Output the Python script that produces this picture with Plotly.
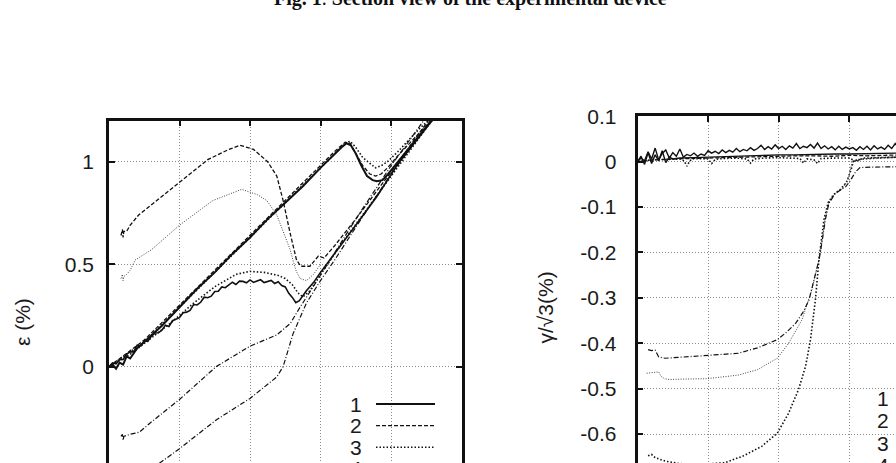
import plotly.graph_objects as go

W, H = 896, 463

# ---------------- data: left panel (epsilon %) ----------------
eps_s1_x = [0.00, 0.05, 0.10, 0.15, 0.20, 0.25, 0.30, 0.40, 0.50, 0.75, 1.00, 1.25, 1.50, 1.75, 2.00, 2.25, 2.50, 2.75, 3.00,
            3.20, 3.30, 3.37, 3.43, 3.50, 3.58, 3.66, 3.74, 3.80, 3.88, 3.96, 4.10, 4.30, 4.50, 4.65]
eps_s1_y = [0.00, 0.01, -0.01, 0.02, 0.01, 0.05, 0.04, 0.09, 0.12, 0.20, 0.29, 0.38, 0.46, 0.55, 0.63, 0.72, 0.80, 0.88, 0.97,
            1.04, 1.07, 1.09, 1.08, 1.04, 0.98, 0.93, 0.91, 0.905, 0.91, 0.94, 1.00, 1.09, 1.17, 1.23]

eps_s1b_x = [0.00, 0.05, 0.10, 0.15, 0.20, 0.25, 0.30, 0.35, 0.40, 0.45, 0.50, 0.55, 0.60, 0.65, 0.70, 0.75, 0.80, 0.85,
             0.90, 0.95, 1.00, 1.05, 1.10, 1.15, 1.20, 1.25, 1.30, 1.35, 1.40, 1.45, 1.50, 1.55, 1.60, 1.65, 1.70, 1.75,
             1.80, 1.85, 1.90, 1.95, 2.00, 2.05, 2.10, 2.15, 2.20, 2.25, 2.30, 2.35, 2.40, 2.45, 2.50, 2.55, 2.60, 2.65,
             2.70, 2.80, 2.90, 3.00, 3.20, 3.50, 3.80, 4.10, 4.40, 4.65]
eps_s1b_y = [0.000, 0.018, 0.014, 0.034, 0.035, 0.061, 0.072, 0.072, 0.105, 0.101, 0.126, 0.123, 0.148, 0.164, 0.165,
             0.178, 0.202, 0.196, 0.224, 0.231, 0.239, 0.263, 0.266, 0.274, 0.303, 0.301, 0.314, 0.339, 0.336, 0.344,
             0.367, 0.368, 0.389, 0.385, 0.398, 0.412, 0.401, 0.417, 0.416, 0.409, 0.423, 0.411, 0.418, 0.424, 0.410,
             0.417, 0.421, 0.406, 0.414, 0.396, 0.389, 0.358, 0.338, 0.312, 0.322, 0.37, 0.41, 0.46, 0.55, 0.69, 0.83,
             0.99, 1.12, 1.23]

eps_d1_x = [0.00, 0.50, 1.00, 1.50, 2.00, 2.50, 3.00, 3.20, 3.35, 3.42, 3.50, 3.60, 3.70, 3.78, 3.86, 3.95, 4.10, 4.40, 4.62]
eps_d1_y = [0.00, 0.13, 0.30, 0.47, 0.64, 0.81, 0.98, 1.05, 1.095, 1.09, 1.04, 0.98, 0.94, 0.93, 0.94, 0.97, 1.03, 1.14, 1.22]

eps_o1_x = [0.00, 0.50, 1.00, 1.50, 2.00, 2.50, 3.00, 3.20, 3.35, 3.42, 3.50, 3.60, 3.70, 3.78, 3.86, 3.95, 4.10, 4.40, 4.62]
eps_o1_y = [0.00, 0.12, 0.29, 0.46, 0.63, 0.80, 0.97, 1.04, 1.09, 1.10, 1.07, 1.02, 0.99, 0.97, 0.98, 1.00, 1.05, 1.16, 1.23]

eps_o2_x = [0.00, 0.30, 0.60, 0.90, 1.20, 1.50, 1.80, 2.00, 2.20, 2.40, 2.50, 2.60, 2.68, 2.75, 2.85, 3.00, 3.30, 3.60, 4.00, 4.30, 4.60]
eps_o2_y = [0.00, 0.06, 0.14, 0.22, 0.31, 0.39, 0.45, 0.465, 0.46, 0.445, 0.43, 0.40, 0.36, 0.34, 0.37, 0.45, 0.60, 0.74, 0.93, 1.07, 1.21]

eps_d2_x = [0.17, 0.19, 0.20, 0.21, 0.25, 0.30, 0.42, 0.60, 1.00, 1.40, 1.70, 1.86, 2.05, 2.25, 2.38, 2.47, 2.57, 2.66,
            2.72, 2.85, 2.97, 3.05, 3.20, 3.50, 4.00, 4.30, 4.55]
eps_d2_y = [0.64, 0.67, 0.63, 0.66, 0.66, 0.69, 0.74, 0.79, 0.90, 1.01, 1.06, 1.08, 1.06, 1.00, 0.93, 0.81, 0.65, 0.52,
            0.49, 0.49, 0.54, 0.53, 0.59, 0.72, 0.95, 1.09, 1.21]

eps_o3_x = [0.17, 0.19, 0.20, 0.21, 0.25, 0.30, 0.37, 0.60, 1.00, 1.47, 1.88, 2.10, 2.24, 2.38, 2.47, 2.57, 2.65, 2.71,
            2.80, 2.90, 3.00]
eps_o3_y = [0.43, 0.45, 0.42, 0.44, 0.45, 0.47, 0.52, 0.57, 0.69, 0.81, 0.865, 0.84, 0.81, 0.74, 0.66, 0.57, 0.47, 0.43,
            0.42, 0.45, 0.50]

eps_c1_x = [0.17, 0.19, 0.20, 0.21, 0.30, 0.43, 0.60, 1.00, 1.52, 2.00, 2.38, 2.57, 2.71, 2.90, 3.10, 3.50, 4.00, 4.40, 4.50]
eps_c1_y = [-0.34, -0.33, -0.36, -0.34, -0.33, -0.32, -0.27, -0.16, 0.00, 0.10, 0.155, 0.21, 0.29, 0.39, 0.50, 0.72, 0.98, 1.17, 1.22]

eps_c2_x = [0.60, 0.76, 1.00, 1.52, 2.00, 2.38, 2.47, 2.61, 2.80, 3.00, 3.20, 3.50, 4.00, 4.50, 4.60]
eps_c2_y = [-0.50, -0.46, -0.40, -0.26, -0.155, -0.05, 0.00, 0.16, 0.31, 0.42, 0.52, 0.68, 0.94, 1.17, 1.22]

# ---------------- data: right panel (gamma/sqrt3 %) ----------------
gam_s1_x = [0.00, 0.05, 0.10, 0.15, 0.20, 0.25, 0.30, 0.35, 0.40, 0.45, 0.50, 0.55, 0.60, 0.65, 0.70, 0.75, 0.80, 0.85,
            0.90, 0.95, 1.00, 1.05, 1.10, 1.15, 1.20, 1.25, 1.30, 1.35, 1.40, 1.45, 1.50, 1.55, 1.60, 1.65, 1.70, 1.75,
            1.80, 1.85, 1.90, 1.95, 2.00, 2.05, 2.10, 2.15, 2.20, 2.25, 2.30, 2.35, 2.40, 2.45, 2.50, 2.55, 2.60, 2.65,
            2.70, 2.75, 2.80, 2.85, 2.90, 2.95, 3.00, 3.05, 3.10, 3.15, 3.20, 3.25, 3.30, 3.35, 3.40, 3.45, 3.50, 3.55,
            3.60, 3.65, 3.70]
gam_s1_y = [0.000, 0.008, 0.002, 0.022, 0.006, 0.030, 0.004, 0.018, 0.026, 0.008, 0.020, 0.012, 0.028, 0.010, 0.016,
            0.013, 0.019, 0.012, 0.017, 0.014, 0.024, 0.019, 0.023, 0.018, 0.026, 0.020, 0.025, 0.021, 0.029, 0.022,
            0.027, 0.024, 0.031, 0.025, 0.029, 0.036, 0.027, 0.033, 0.028, 0.037, 0.029, 0.034, 0.027, 0.035, 0.030,
            0.040, 0.029, 0.034, 0.031, 0.038, 0.030, 0.041, 0.029, 0.035, 0.028, 0.033, 0.026, 0.034, 0.027, 0.032,
            0.028, 0.031, 0.025, 0.033, 0.027, 0.034, 0.026, 0.035, 0.028, 0.032, 0.027, 0.036, 0.029, 0.040, 0.030]

gam_s2_x = [0.00, 0.05, 0.10, 0.15, 0.20, 0.25, 0.30, 0.35, 0.40, 0.45, 0.50, 0.60, 0.80, 1.00, 1.20, 1.40, 1.60, 1.80,
            2.00, 2.20, 2.40, 2.60, 2.80, 3.00, 3.20, 3.40, 3.60, 3.70]
gam_s2_y = [0.000, 0.012, -0.006, 0.020, -0.004, 0.015, 0.002, 0.024, -0.002, 0.010, 0.006, 0.008, 0.009, 0.010, 0.012,
            0.013, 0.013, 0.014, 0.015, 0.015, 0.016, 0.016, 0.017, 0.017, 0.018, 0.018, 0.019, 0.019]

gam_d1_x = [0.00, 0.25, 0.50, 0.75, 1.00, 1.25, 1.50, 1.75, 2.00, 2.25, 2.50, 2.75, 3.00, 3.25, 3.50, 3.75]
gam_d1_y = [0.000, 0.004, 0.006, 0.007, 0.009, 0.010, 0.011, 0.012, 0.012, 0.013, 0.013, 0.012, 0.014, 0.013, 0.014, 0.015]

gam_o1_x = [0.00, 0.20, 0.40, 0.60, 0.66, 0.70, 0.74, 0.80, 1.00, 1.05, 1.10, 1.20, 1.40, 1.55, 1.60, 1.65, 1.80, 2.00,
            2.30, 2.35, 2.40, 2.50, 2.55, 2.60, 2.80, 3.00, 3.10, 3.15, 3.20, 3.40, 3.70]
gam_o1_y = [0.000, 0.004, 0.005, 0.006, 0.002, -0.010, 0.002, 0.007, 0.006, -0.004, 0.005, 0.007, 0.008, 0.006, -0.003,
            0.006, 0.008, 0.009, 0.007, -0.003, 0.006, 0.004, -0.004, 0.007, 0.008, 0.008, 0.000, 0.005, 0.008, 0.009, 0.010]

gam_c1_x = [0.15, 0.20, 0.25, 0.28, 0.30, 0.39, 0.60, 0.98, 1.43, 1.70, 1.98, 2.10, 2.24, 2.35, 2.43, 2.50, 2.57, 2.62,
            2.66, 2.71, 2.80, 2.95, 3.02, 3.09, 3.15, 3.30, 3.50, 3.70]
gam_c1_y = [-0.414, -0.416, -0.415, -0.425, -0.430, -0.433, -0.431, -0.427, -0.422, -0.410, -0.392, -0.377, -0.356,
            -0.330, -0.304, -0.260, -0.216, -0.170, -0.128, -0.092, -0.070, -0.055, -0.040, -0.022, -0.013, -0.012,
            -0.012, -0.011]

gam_o2_x = [0.13, 0.20, 0.30, 0.33, 0.38, 0.46, 0.60, 0.98, 1.43, 1.70, 1.98, 2.14, 2.33, 2.47, 2.59, 2.66, 2.72, 2.80,
            2.90, 2.98, 3.04, 3.10, 3.30, 3.50, 3.70]
gam_o2_y = [-0.466, -0.465, -0.463, -0.472, -0.478, -0.480, -0.479, -0.478, -0.470, -0.458, -0.433, -0.400, -0.348,
            -0.282, -0.202, -0.121, -0.085, -0.070, -0.060, -0.040, 0.000, 0.005, 0.008, 0.010, 0.010]

gam_o3_x = [0.15, 0.20, 0.25, 0.40, 0.60, 0.90, 1.24, 1.50, 1.76, 1.98, 2.14, 2.28, 2.38, 2.45, 2.52, 2.57, 2.64, 2.70,
            2.78, 2.88, 2.96, 3.02, 3.06, 3.20, 3.40, 3.70]
gam_o3_y = [-0.648, -0.645, -0.652, -0.660, -0.665, -0.667, -0.663, -0.648, -0.627, -0.598, -0.554, -0.502, -0.451,
            -0.392, -0.304, -0.216, -0.128, -0.090, -0.072, -0.060, -0.045, -0.020, 0.002, 0.006, 0.008, 0.010]

# ---------------- tick labels ----------------
eps_ticks = [0, 0.5, 1]
eps_ticktext = ["0", "0.5", "1"]
gam_ticks = [0.1, 0.0, -0.1, -0.2, -0.3, -0.4, -0.5, -0.6]
gam_ticktext = ["0.1", "0", "-0.1", "-0.2", "-0.3", "-0.4", "-0.5", "-0.6"]
x_ticks = [1, 2, 3, 4]
legend_labels = ["1", "2", "3", "4"]

title_text = "<b>Fig. 1</b>. <b>Section view of the experimental device</b>"

# ---------------- styles ----------------
INK = "#111111"
S_SOLID = dict(color=INK, width=2.0, dash="solid")
S_DASH = dict(color=INK, width=1.3, dash="4px,2px")
S_DOT = dict(color=INK, width=1.6, dash="1.5px,2px")
S_THIN = dict(color="#444444", width=1.0, dash="1px,1.5px")
S_DDOT = dict(color=INK, width=1.2, dash="5px,2px,1px,2px")
legend_styles = [S_SOLID, S_DASH, S_DOT, S_DDOT]

fig = go.Figure()


def add(x, y, style, ax):
    fig.add_trace(go.Scatter(x=x, y=y, mode="lines", line=style, showlegend=False, hoverinfo="skip",
                             xaxis="x" if ax == 1 else "x2", yaxis="y" if ax == 1 else "y2"))


add(eps_c2_x, eps_c2_y, S_DDOT, 1)
add(eps_c1_x, eps_c1_y, S_DDOT, 1)
add(eps_o3_x, eps_o3_y, S_THIN, 1)
add(eps_d2_x, eps_d2_y, S_DASH, 1)
add(eps_o2_x, eps_o2_y, S_DOT, 1)
add(eps_o1_x, eps_o1_y, S_DOT, 1)
add(eps_d1_x, eps_d1_y, S_DASH, 1)
add(eps_s1b_x, eps_s1b_y, dict(color=INK, width=1.6), 1)
add(eps_s1_x, eps_s1_y, S_SOLID, 1)

add(gam_o3_x, gam_o3_y, S_DOT, 2)
add(gam_o2_x, gam_o2_y, S_THIN, 2)
add(gam_c1_x, gam_c1_y, S_DDOT, 2)
add(gam_o1_x, gam_o1_y, S_DOT, 2)
add(gam_d1_x, gam_d1_y, S_DASH, 2)
add(gam_s2_x, gam_s2_y, dict(color=INK, width=1.4), 2)
add(gam_s1_x, gam_s1_y, dict(color=INK, width=1.4), 2)


def px(v):
    return v / W


def py(v):
    return 1 - v / H


FONT = dict(family="Liberation Sans, Arial, sans-serif", size=21, color="#1a1a1a")
axis_common = dict(showline=True, linewidth=2.5, linecolor=INK, ticks="inside", ticklen=6, tickwidth=2,
                   tickcolor=INK, showgrid=True, gridcolor="#8a8a8a", gridwidth=1, griddash="1px,2px",
                   zeroline=False, tickfont=FONT, automargin=False)

fig.update_layout(
    width=W, height=H, margin=dict(l=0, r=0, t=0, b=0, pad=0, autoexpand=False),
    paper_bgcolor="white", plot_bgcolor="white", showlegend=False,
    xaxis=dict(axis_common, domain=[px(109), px(461.5)], range=[0, 5], side="top", anchor="y",
               tickvals=x_ticks, showticklabels=False),
    yaxis=dict(axis_common, domain=[0, py(120.7)], range=[-0.47, 1.2], anchor="x", mirror="ticks",
               tickvals=eps_ticks, ticktext=eps_ticktext, ticklabelstandoff=8),
    xaxis2=dict(axis_common, domain=[px(637.5), 1], range=[0, 3.661], side="top", anchor="y2",
                tickvals=x_ticks[:3], showticklabels=False),
    yaxis2=dict(axis_common, domain=[0, py(116.3)], range=[-0.6637, 0.1], anchor="x2",
                tickvals=gam_ticks, ticktext=gam_ticktext, ticklabelstandoff=14),
)

shapes = [
    dict(type="rect", xref="paper", yref="paper", x0=px(340), x1=px(459), y0=-0.05, y1=py(391),
         fillcolor="white", line=dict(width=0), layer="between"),
    dict(type="rect", xref="paper", yref="paper", x0=px(872), x1=1.01, y0=-0.05, y1=py(385),
         fillcolor="white", line=dict(width=0), layer="between"),
]
annotations = []
left_leg_y = [404, 425.7, 447.2, 468.8]
right_leg_y = [398.3, 420.6, 443, 465.3]
for lab, ly, st in zip(legend_labels, left_leg_y, legend_styles):
    annotations.append(dict(text=lab, xref="paper", yref="paper", x=px(364), y=py(ly), xanchor="right",
                            yanchor="middle", showarrow=False, font=FONT))
    shapes.append(dict(type="line", xref="paper", yref="paper", x0=px(376), x1=px(435), y0=py(ly), y1=py(ly),
                       line=st, layer="above"))
for lab, ly in zip(legend_labels, right_leg_y):
    annotations.append(dict(text=lab, xref="paper", yref="paper", x=px(891), y=py(ly), xanchor="right",
                            yanchor="middle", showarrow=False, font=FONT))

# partially visible tick label below the crop
annotations.append(dict(text="-0.5", xref="paper", yref="paper", x=px(97.5), y=py(469.2), xanchor="right",
                        yanchor="middle", showarrow=False, font=FONT))
# axis titles
annotations.append(dict(text="ε (%)", xref="paper", yref="paper", x=px(22), y=py(322), textangle=-90,
                        xanchor="center", yanchor="middle", showarrow=False, font=FONT))
annotations.append(dict(text="γ/√3(%)", xref="paper", yref="paper", x=px(545), y=py(307.5), textangle=-90,
                        xanchor="center", yanchor="middle", showarrow=False, font=FONT))
# figure caption (cut at the top)
annotations.append(dict(text=title_text, xref="paper", yref="paper", x=px(470), y=py(12), xanchor="center",
                        yanchor="bottom", showarrow=False,
                        font=dict(family="Liberation Serif, Times New Roman, serif", size=20, color="#111111")))

fig.update_layout(shapes=shapes, annotations=annotations)
fig.write_html("out.html")
